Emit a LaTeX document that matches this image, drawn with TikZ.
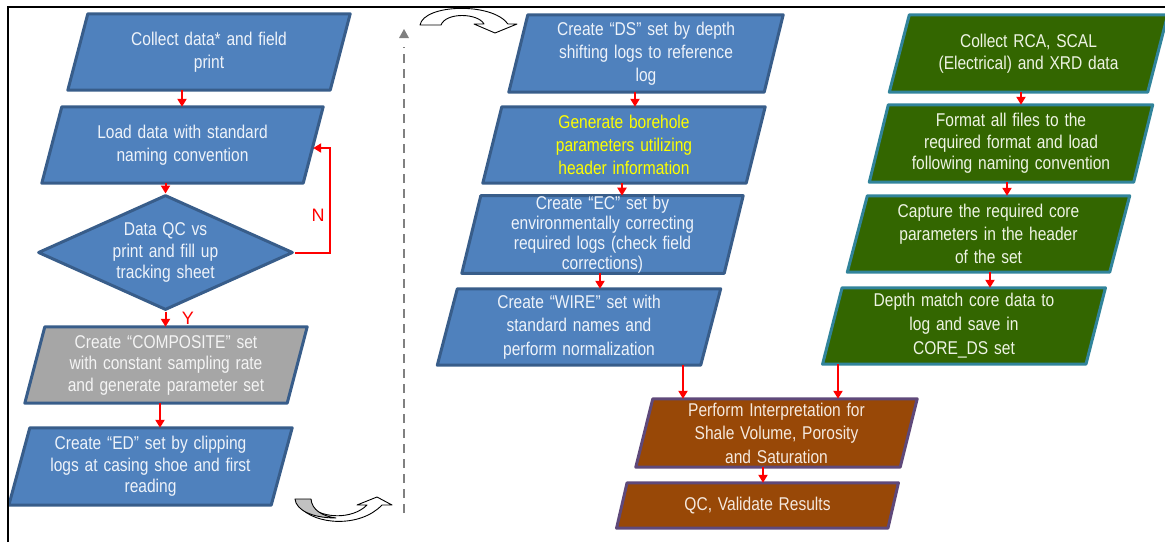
\documentclass[tikz,border=0pt]{standalone}
\usepackage{fontspec}
\setmainfont{Liberation Sans}[FakeStretch=0.84,WordSpace=1.35]
\newfontfamily\labfont{Liberation Sans}
\usetikzlibrary{arrows.meta,shapes.geometric,backgrounds,calc}
\definecolor{bfill}{HTML}{4F81BD}
\definecolor{bline}{HTML}{385D8A}
\definecolor{gfill}{HTML}{A6A6A6}
\definecolor{grfill}{HTML}{336600}
\definecolor{grline}{HTML}{31849B}
\definecolor{brfill}{HTML}{984807}
\definecolor{brline}{HTML}{5F497A}
\definecolor{btxt}{HTML}{EEF3FA}
\definecolor{gtxt}{HTML}{F4F4F4}
\definecolor{grtxt}{HTML}{EEF4E4}
\definecolor{brtxt}{HTML}{F5E9DF}
\definecolor{ytxt}{HTML}{FFFF00}
\definecolor{dashg}{HTML}{808080}
\newcommand\drawpara[3]{\draw[#3] ([xshift=#2*0.5pt]#1.north west) -- ([xshift=#2*0.5pt]#1.north east) -- ([xshift=-#2*0.5pt]#1.south east) -- ([xshift=-#2*0.5pt]#1.south west) -- cycle;}
\begin{document}
\begin{tikzpicture}[x=1pt,y=-1pt,
  bx/.style={rectangle, inner sep=0pt, align=center, font=\fontsize{18.5}{22.5}\selectfont},
  bluebox/.style={fill=bfill, draw=bline, line width=3pt, line join=round},
  graybox/.style={fill=gfill, draw=bline, line width=3pt, line join=round},
  greenbox/.style={fill=grfill, draw=grline, line width=3pt, line join=round},
  brownbox/.style={fill=brfill, draw=brline, line width=3pt, line join=round},
  arr/.style={draw=red, line width=2pt, -{Triangle[width=9pt,length=8pt,fill=red]}},
  lab/.style={text=red, font=\labfont\fontsize{18}{18}\selectfont, inner sep=0pt},
  curlarrow/.style={draw=black, line width=0.9pt, line join=round}
]
\useasboundingbox (0,0) rectangle (1165,542);
% frame
\draw[line width=1.3pt] (8,542) -- (8,7) -- (1165,7);

% left column
\node[bx, text=btxt, minimum width=262pt, minimum height=76pt] (b1) at (209,52) {Collect data* and field\\print};
\node[bx, text=btxt, minimum width=261pt, minimum height=76pt] (b2) at (182.5,145) {Load data with standard\\naming convention};
\node[diamond, fill=bfill, draw=bline, line width=3pt, line join=round, minimum width=255pt, minimum height=115pt, inner sep=0pt] (dq) at (165.5,252.5) {};
\node[bx, text=btxt, font=\fontsize{18.5}{21.5}\selectfont] (dqt) at (dq.center) {Data QC vs\\print and fill up\\tracking sheet};
\node[bx, text=gtxt, font=\fontsize{18.5}{21.5}\selectfont, minimum width=262pt, minimum height=76pt] (b3) at (166,365) {Create “COMPOSITE” set\\with constant sampling rate\\and generate parameter set};
\node[bx, text=btxt, font=\fontsize{18.5}{21.5}\selectfont, minimum width=262pt, minimum height=77pt] (b4) at (150.5,466.5) {Create “ED” set by clipping\\logs at casing shoe and first\\reading};

% middle column
\node[bx, text=btxt, font=\fontsize{18.5}{23}\selectfont, minimum width=255pt, minimum height=77pt] (ds) at (646,53.5) {Create “DS” set by depth\\shifting logs to reference\\log};
\node[bx, text=ytxt, font=\fontsize{18.5}{23}\selectfont, minimum width=263pt, minimum height=76pt] (gen) at (624,145) {Generate borehole\\parameters utilizing\\header information};
\node[bx, text=btxt, font=\fontsize{18.5}{20}\selectfont, minimum width=262pt, minimum height=75pt] (ec) at (602.5,234.5) {Create “EC” set by\\environmentally correcting\\required logs (check field\\corrections)};
\node[bx, text=btxt, font=\fontsize{18.5}{23.5}\selectfont, minimum width=263pt, minimum height=76pt] (wire) at (579,327) {Create “WIRE” set with\\standard names and\\perform normalization};
\node[bx, text=brtxt, font=\fontsize{18.5}{23.5}\selectfont, minimum width=264pt, minimum height=68pt] (perf) at (776.5,433) {Perform Interpretation for\\Shale Volume, Porosity\\and Saturation};
\node[bx, text=brtxt, minimum width=271pt, minimum height=45pt] (qc) at (757.5,505.5) {QC, Validate Results};

% right column
\node[bx, text=grtxt, minimum width=258pt, minimum height=77pt] (rca) at (1028.5,53.5) {Collect RCA, SCAL\\(Electrical) and XRD data};
\node[bx, text=grtxt, font=\fontsize{18.5}{21.5}\selectfont, minimum width=264pt, minimum height=77pt] (fmt) at (1011,143.5) {Format all files to the\\required format and load\\following naming convention};
\node[bx, text=grtxt, font=\fontsize{18.5}{23}\selectfont, minimum width=262pt, minimum height=76pt] (cap) at (988.5,234) {Capture the required core\\parameters in the header\\of the set};
\node[bx, text=grtxt, font=\fontsize{18.5}{24}\selectfont, minimum width=263pt, minimum height=76pt] (dep) at (964,326) {Depth match core data to\\log and save in\\CORE\_DS set};

\begin{scope}[on background layer]
  \drawpara{b1}{20}{bluebox}
  \drawpara{b2}{20}{bluebox}
  \drawpara{b3}{20}{graybox}
  \drawpara{b4}{21}{bluebox}
  \drawpara{ds}{19}{bluebox}
  \drawpara{gen}{19}{bluebox}
  \drawpara{ec}{19}{bluebox}
  \drawpara{wire}{20}{bluebox}
  \drawpara{perf}{17}{brownbox}
  \drawpara{qc}{10.5}{brownbox}
  \drawpara{rca}{20}{greenbox}
  \drawpara{fmt}{19}{greenbox}
  \drawpara{cap}{20}{greenbox}
  \drawpara{dep}{19.5}{greenbox}
\end{scope}

% connectors
\draw[arr] (b1.south -| 182,0) -- (b2.north -| 182,0);
\draw[arr] (b2.south -| dq.north) -- (dq.north);
\draw[arr] (dq.east) -- (330,0 |- dq.east) |- ([yshift=-3pt]b2.east);
\draw[arr] (dq.south) -- (b3.north -| dq.south);
\draw[arr] (b3.south -| 160,0) -- (b4.north -| 160,0);
\node[lab] (nlab) at (318,215) {N};
\node[lab] (ylab) at (188,318) {Y};

\draw[arr] (ds.south -| 635,0) -- (gen.north -| 635,0);
\draw[arr] (gen.south -| 622,0) -- (ec.north -| 622,0);
\draw[arr] (ec.south -| 600,0) -- (wire.north -| 600,0);
\draw[arr] (wire.south -| 683,0) -- (perf.north -| 683,0);
\draw[arr] (dep.south -| 838,0) -- (perf.north -| 838,0);
\draw[arr] (perf.south -| 763,0) -- (qc.north -| 763,0);

\draw[arr] (rca.south -| 1021,0) -- (fmt.north -| 1021,0);
\draw[arr] (fmt.south -| 1007,0) -- (cap.north -| 1007,0);
\draw[arr] (cap.south -| 990,0) -- (dep.north -| 990,0);

% dashed separator with arrow
\coordinate (dbot) at (404,513);
\coordinate (dtop) at (404,47);
\coordinate (dtip) at (404,29);
\draw[dashg, line width=2.8pt, dash pattern=on 9pt off 6pt] (dbot) -- (dtop);
\fill[dashg] ([xshift=-5pt]dtip |- 0,38) -- ([xshift=5pt]dtip |- 0,38) -- (dtip) -- cycle;

% top curled arrow
\draw[curlarrow, fill=white] (420,25) .. controls (424,4) and (492,2) .. (508,24) -- (517,24) -- (495,33) -- (474,24) -- (484,24) .. controls (478,13) and (446,12) .. (441,25) -- cycle;

% bottom curled arrow
\draw[curlarrow, fill=white] (300,507) .. controls (315,525) and (360,528) .. (382,505) -- (392,505) -- (377,497) -- (357,505) -- (367,505) .. controls (352,520) and (322,518) .. (311,507) -- cycle;
\draw[curlarrow, fill=gfill!70] (295,499) -- (311,499) .. controls (312,510) and (322,516) .. (336,518) .. controls (312,518) and (296,510) .. (295,499) -- cycle;
\end{tikzpicture}
\end{document}
